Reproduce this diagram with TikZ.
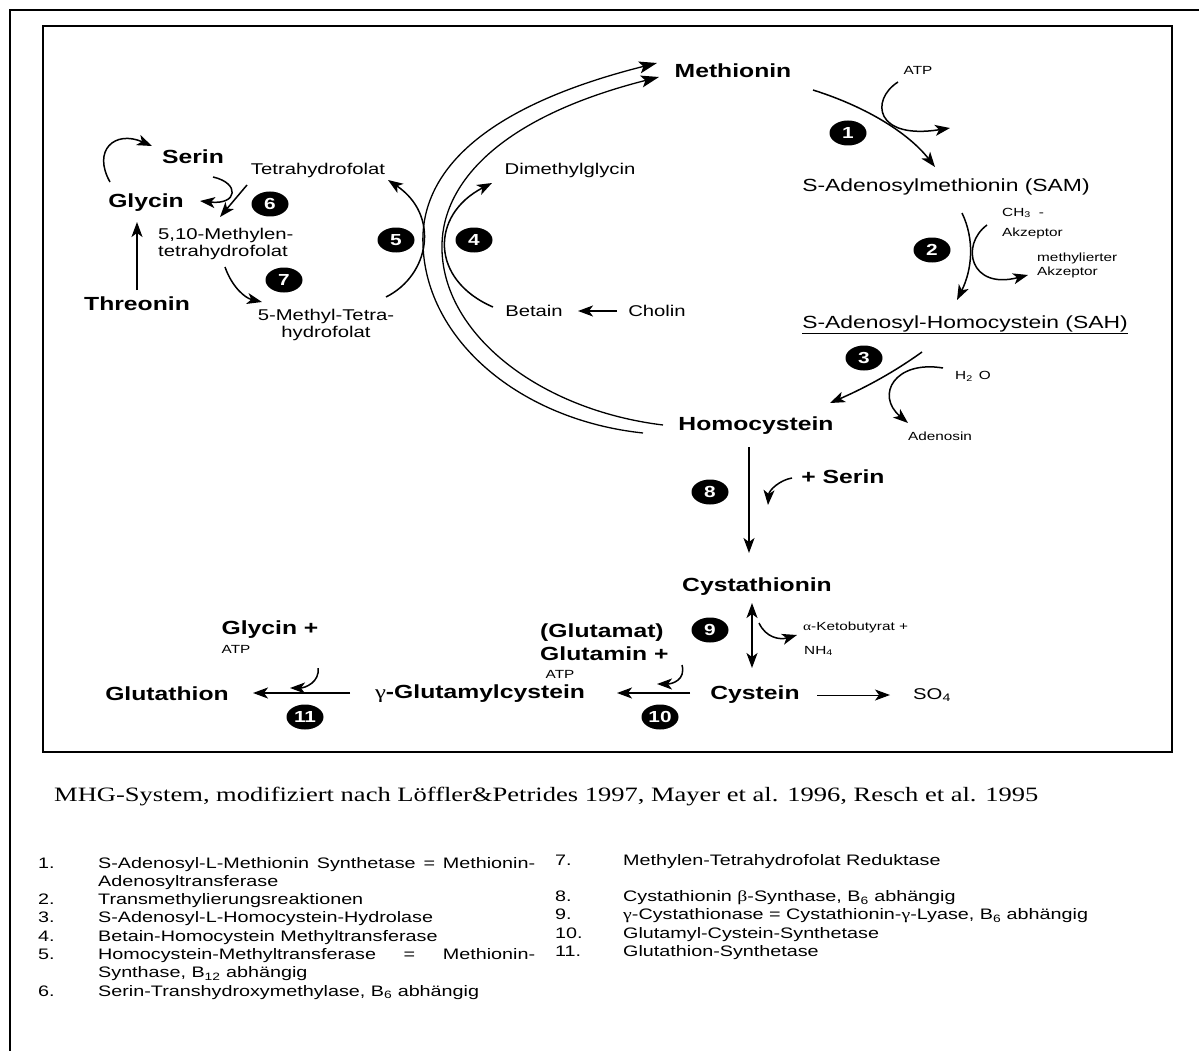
\documentclass[tikz,border=0pt]{standalone}
\usepackage{fontspec}
\setmainfont{Liberation Sans}[FakeStretch=1.3]
\newfontfamily\serifgr{Liberation Serif}[FakeStretch=1.3]
\usetikzlibrary{shapes.geometric, arrows.meta, positioning}

\begin{document}
\begin{tikzpicture}[x=1pt, y=-1pt,
      % Define compact styles
      metab/.style={inner sep=0pt, font=\fontsize{19}{23}\selectfont\bfseries},
      interm/.style={inner sep=0pt, font=\fontsize{17.6}{20}\selectfont},
      cof/.style={inner sep=0pt, font=\fontsize{15.6}{17}\selectfont},
      tinytxt/.style={inner sep=0pt, font=\fontsize{11.8}{14}\selectfont},
      enz/.style={ellipse, fill=black, text=white, inner sep=0pt, minimum width=37pt, minimum height=25pt, font=\fontsize{16}{16}\selectfont\bfseries},
      arrow/.style={-{Stealth[length=15pt, width=11pt, inset=4pt]}, line width=1.5pt},
      dblarrow/.style={{Stealth[length=15pt, width=11pt, inset=4pt]}-{Stealth[length=15pt, width=11pt, inset=4pt]}, line width=1.5pt},
      bigarc/.style={-{Stealth[length=18pt, width=12pt, inset=4pt]}, line width=1.3pt},
      legtxt/.style={inner sep=0pt, anchor=base west, font=\fontsize{15.2}{18.3}\selectfont}
    ]
    \useasboundingbox (0,0) rectangle (1199,1051);

    % Frames
    \draw[line width=2.5pt] (10,1060) -- (10,10) -- (1210,10);
    \draw[line width=2.5pt] (43,26) rectangle (1172,752);

    % Methionine cycle
    \node[metab] (met) at (733,71) {Methionin};
    \node[interm] (sam) at (946,187) {S-Adenosylmethionin (SAM)};
    \node[interm] (sah) at (965,325) {\underline{S-Adenosyl-Homocystein (SAH)}};
    \node[metab] (hcy) at (756,426) {Homocystein};
    \node[tinytxt] (atp1) at (918,70) {ATP};
    \node[tinytxt, anchor=west] (ch3) at (1002,213) {CH\textsubscript{3}\hspace{8pt}-};
    \node[tinytxt, anchor=west] (akz) at (1002,233) {Akzeptor};
    \node[tinytxt, anchor=west, align=left] (makz) at (1037,265) {methylierter\\Akzeptor};
    \node[tinytxt, anchor=west] (h2o) at (955,376) {H\textsubscript{2}\hspace{6pt}O};
    \node[tinytxt] (ado) at (940,436) {Adenosin};

    % Folate and betaine side
    \node[cof] (thf) at (318,170) {Tetrahydrofolat};
    \node[cof, anchor=west, align=left] (mthf) at (158,244) {5,10-Methylen-\\tetrahydrofolat};
    \node[cof, align=center] (mthf5) at (326,325) {5-Methyl-Tetra-\\hydrofolat};
    \node[metab] (ser) at (193,157) {Serin};
    \node[metab] (gly) at (146,203) {Glycin};
    \node[metab] (thr) at (137,304) {Threonin};
    \node[cof] (dmg) at (570,170) {Dimethylglycin};
    \node[cof] (bet) at (534,311) {Betain};
    \node[cof] (cho) at (657,311) {Cholin};

    % Transsulfuration and glutathione
    \node[metab] (pser) at (843,477) {+ Serin};
    \node[metab] (cth) at (757,587) {Cystathionin};
    \node[tinytxt, anchor=west] (akb) at (803,627) {{\serifgr α}-Ketobutyrat +};
    \node[tinytxt, anchor=west] (nh4) at (804,651) {NH\textsubscript{4}};
    \node[metab] (cys) at (755,695) {Cystein};
    \node[cof, anchor=west] (so4) at (913,695) {SO\textsubscript{4}};
    \node[metab] (ggc) at (480,694) {{\serifgr\mdseries γ}-Glutamylcystein};
    \node[metab, anchor=west, align=left] (gln) at (540,642) {(Glutamat)\\Glutamin +};
    \node[tinytxt] (atp10) at (560,674) {ATP};
    \node[metab] (gsh) at (167,694) {Glutathion};
    \node[metab] (glyp) at (270,630) {Glycin +};
    \node[tinytxt] (atp11) at (236,649) {ATP};

    % Enzyme numbers
    \node[enz] (e1) at (848,133) {1};
    \node[enz] (e2) at (932,250) {2};
    \node[enz] (e3) at (864,358) {3};
    \node[enz] (e4) at (474,240) {4};
    \node[enz] (e5) at (396,240) {5};
    \node[enz] (e6) at (270,204) {6};
    \node[enz] (e7) at (284,280) {7};
    \node[enz] (e8) at (710,492) {8};
    \node[enz] (e9) at (710,630) {9};
    \node[enz] (e10) at (660,717) {10};
    \node[enz] (e11) at (305,717) {11};

    % Remethylation arcs
    \draw[bigarc] ([shift={(-113,7)}]hcy.center) .. controls (520,420) and (426,340) .. (423,245)
      .. controls (420,180) and (470,110) .. ([shift={(-76,-8)}]met.center);
    \draw[bigarc] ([shift={(-93,-1)}]hcy.center) .. controls (540,410) and (444,335) .. (442,250)
      .. controls (440,190) and (490,120) .. ([shift={(-74,6)}]met.center);
    \draw[arrow] ([shift={(60,-28)}]mthf5.center) .. controls (430,275) and (440,215) .. ([shift={(70,10)}]thf.center);
    \draw[arrow] ([shift={(-41,-4)}]bet.center) .. controls (430,280) and (430,215) .. ([shift={(-78,13)}]dmg.center);
    \draw[arrow] ([shift={(-40,0)}]cho.center) -- ([shift={(44,0)}]bet.center);

    % Methyl transfer
    \draw[arrow] ([shift={(80,19)}]met.center) .. controls (870,108) and (910,135) .. ([shift={(-11,-20)}]sam.center);
    \draw[arrow] ([shift={(-20,12)}]atp1.center) .. controls (870,100) and (875,140) .. ([shift={(32,58)}]atp1.center);
    \draw[arrow] ([shift={(16,26)}]sam.center) .. controls (975,240) and (972,270) .. ([shift={(-8,-25)}]sah.center);
    \draw[arrow] ([shift={(-15,12)}]ch3.west) .. controls (960,245) and (970,290) .. ([shift={(-9,10)}]makz.west);
    \draw[arrow] ([shift={(-43,27)}]sah.center) .. controls (890,375) and (860,390) .. ([shift={(74,-23)}]hcy.center);
    \draw[arrow] ([shift={(-12,-8)}]h2o.west) .. controls (895,360) and (875,395) .. ([shift={(-32,-13)}]ado.center);

    % Folate cycle
    \draw[arrow] ([shift={(-36,-21)}]gly.center) .. controls (92,150) and (115,130) .. ([shift={(-41,-11)}]ser.center);
    \draw[arrow] ([shift={(20,20)}]ser.center) .. controls (240,183) and (238,205) .. ([shift={(54,-2)}]gly.center);
    \draw[arrow] ([shift={(-71,15)}]thf.center) -- ([shift={(62,-27)}]mthf.west);
    \draw[arrow] ([shift={(67,23)}]mthf.west) .. controls (232,287) and (245,298) .. ([shift={(-64,-23)}]mthf5.center);
    \draw[arrow] ([shift={(0,-14)}]thr.center) -- ([shift={(-9,19)}]gly.center);

    % Transsulfuration
    \draw[arrow] ([shift={(-7,21)}]hcy.center) -- ([shift={(-8,-34)}]cth.center);
    \draw[arrow] ([shift={(-51,1)}]pser.center) .. controls (780,480) and (769,490) .. ([shift={(-75,28)}]pser.center);
    \draw[dblarrow] ([shift={(-5,16)}]cth.center) -- ([shift={(-3,-27)}]cys.center);
    \draw[arrow] ([shift={(-44,-4)}]akb.west) .. controls (766,638) and (780,640) .. ([shift={(-6,8)}]akb.west);
    \draw[arrow, line width=1pt] ([shift={(62,0)}]cys.center) -- ([shift={(-23,0)}]so4.west);

    % Glutathione synthesis
    \draw[arrow] ([shift={(-65,-2)}]cys.center) -- ([shift={(137,-1)}]ggc.center);
    \draw[arrow] ([shift={(142,23)}]gln.west) .. controls (686,680) and (672,684) .. ([shift={(117,42)}]gln.west);
    \draw[arrow] ([shift={(-130,-1)}]ggc.center) -- ([shift={(86,-1)}]gsh.center);
    \draw[arrow] ([shift={(48,38)}]glyp.center) .. controls (320,682) and (305,688) .. ([shift={(20,58)}]glyp.center);

    % Source and enzyme list
    \node[anchor=base west, inner sep=0pt, font=\serifgr\fontsize{20.4}{23}\selectfont] (src) at (54,801)
      {MHG-System, modifiziert nach Löffler\&Petrides 1997, Mayer et al. 1996, Resch et al. 1995};
    \node[legtxt] (leg1) at (38,868) {\begin{tabular}[t]{@{}p{60pt}@{}l@{}}
      1. & \makebox[437pt][s]{S-Adenosyl-L-Methionin Synthetase = Methionin-}\\
         & Adenosyltransferase\\
      2. & Transmethylierungsreaktionen\\
      3. & S-Adenosyl-L-Homocystein-Hydrolase\\
      4. & Betain-Homocystein Methyltransferase\\
      5. & \makebox[437pt][s]{Homocystein-Methyltransferase = Methionin-}\\
         & Synthase, B\textsubscript{12} abhängig\\
      6. & Serin-Transhydroxymethylase, B\textsubscript{6} abhängig
    \end{tabular}};
    \node[legtxt] (leg2) at (555,865) {\begin{tabular}[t]{@{}p{68pt}@{}l@{}}
      7. & Methylen-Tetrahydrofolat Reduktase\\[18.3pt]
      8. & Cystathionin {\serifgr β}-Synthase, B\textsubscript{6} abhängig\\
      9. & {\serifgr γ}-Cystathionase = Cystathionin-{\serifgr γ}-Lyase, B\textsubscript{6} abhängig\\
      10. & Glutamyl-Cystein-Synthetase\\
      11. & Glutathion-Synthetase
    \end{tabular}};

\end{tikzpicture}
\end{document}
